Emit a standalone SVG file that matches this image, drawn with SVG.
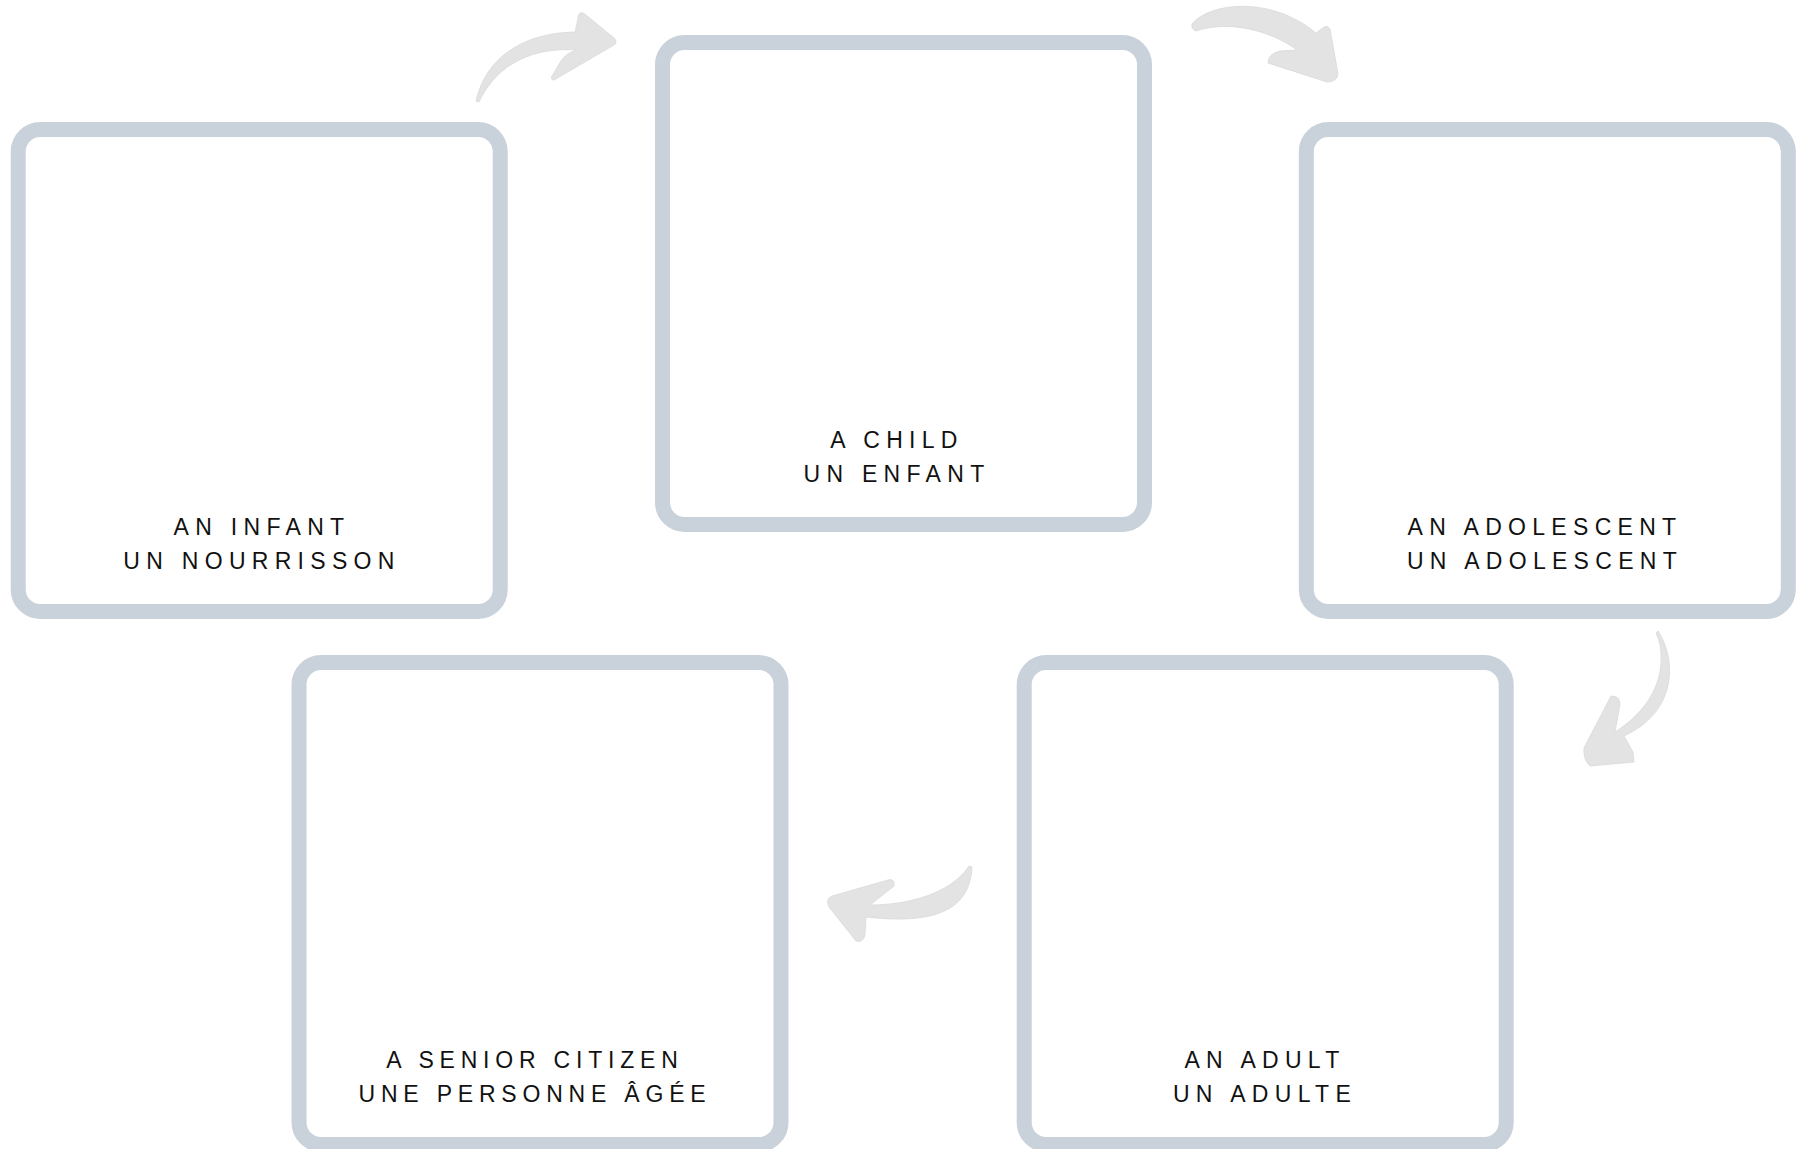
<svg xmlns="http://www.w3.org/2000/svg" width="1799" height="1149" viewBox="0 0 1799 1149">
<style>
.box{fill:#ffffff;stroke:#c9d1da;stroke-width:15}
.lbl{font-family:"Liberation Sans",Arial,sans-serif;font-size:23px;letter-spacing:6.3px;fill:#111111;text-anchor:middle}
.tight{letter-spacing:5.8px}
.arr{fill:#e3e3e3;stroke:#d9d9d9;stroke-width:0.8}
</style>
<rect width="1799" height="1149" fill="#ffffff"/>
<g id="connectors">
<path class="arr" d="M 476,101 C 485,60 520,33 575,32 L 579,14 Q 582,11 586,15 L 614,38 Q 618,42 614,45 L 554,80 Q 550,80 552,76 L 561,61 Q 566,53 577,50 C 535,47 498,62 479,102 Z"/>
<path class="arr" d="M 1192,24 C 1210,2 1272,-4 1316,33 L 1324,27 Q 1328,25 1330,29 L 1338,74 Q 1337,82 1327,82 L 1268,63 Q 1268,54 1280,51 L 1297,50 C 1270,30 1228,20 1196,31 Q 1191,29 1192,24 Z"/>
<path class="arr" d="M 1658,631 C 1677,660 1677,712 1624,736 L 1633,752 L 1634,762 L 1590,766 Q 1583,760 1584,748 L 1611,696 Q 1620,696 1620,704 L 1615,732 C 1642,715 1660,690 1661,662 Q 1662,645 1656,633 Z"/>
<path class="arr" d="M 972,867 C 970,910 935,925 866,917 L 865,935 Q 863,943 856,941 L 829,907 Q 825,899 832,896 L 888,880 Q 895,878 894,886 L 870,905 C 905,905 950,895 969,866 Z"/>
</g>
<g id="node-infant">
<rect class="box" x="18.2" y="129.5" width="482" height="482" rx="22"/>
<text class="lbl" x="262" y="534.5">AN INFANT</text>
<text class="lbl" x="262" y="568.5">UN NOURRISSON</text>
</g>
<g id="node-child">
<rect class="box" x="662.5" y="42.5" width="482" height="482" rx="22"/>
<text class="lbl" x="897" y="447.5">A CHILD</text>
<text class="lbl" x="897" y="481.5">UN ENFANT</text>
</g>
<g id="node-adolescent">
<rect class="box" x="1306.3" y="129.5" width="482" height="482" rx="22"/>
<text class="lbl" x="1545" y="534.5">AN ADOLESCENT</text>
<text class="lbl" x="1545" y="568.5">UN ADOLESCENT</text>
</g>
<g id="node-adult">
<rect class="box" x="1024.2" y="662.5" width="482" height="482" rx="22"/>
<text class="lbl" x="1265" y="1067.5">AN ADULT</text>
<text class="lbl" x="1265" y="1101.5">UN ADULTE</text>
</g>
<g id="node-senior">
<rect class="box" x="299" y="662.5" width="482" height="482" rx="22"/>
<text class="lbl tight" x="535" y="1067.5">A SENIOR CITIZEN</text>
<text class="lbl tight" x="535" y="1101.5">UNE PERSONNE ÂGÉE</text>
</g>
</svg>
